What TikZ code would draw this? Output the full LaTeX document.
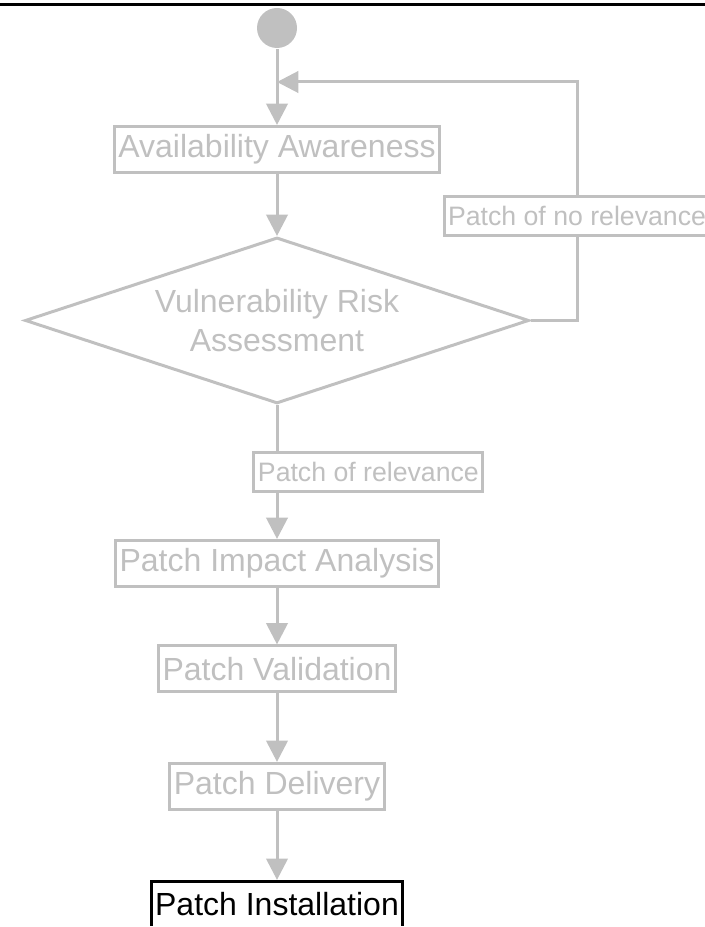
\documentclass[tikz,border=0pt]{standalone}
\usepackage{fontspec}
\setmainfont{Liberation Sans}
\usetikzlibrary{arrows.meta,positioning,shapes.geometric}
\definecolor{faded}{HTML}{C0C0C0}
\tikzset{
  >={Triangle[length=16pt,width=16pt]},
  activity/.style={draw,rectangle,fill=white,line width=2.25pt,
    inner xsep=3pt,inner ysep=0pt,minimum height=34.5pt,
    font=\fontsize{24pt}{28.8pt}\selectfont},
  current/.style={activity,draw=black,text=black},
  decision/.style={diamond,draw,line width=2.25pt,shape aspect=3,
    minimum width=378pt,minimum height=124.5pt,inner sep=0pt,
    align=center,font=\fontsize{24pt}{28.8pt}\selectfont},
  guard/.style={draw,rectangle,fill=white,line width=2.25pt,
    inner xsep=3pt,inner ysep=0pt,minimum height=29.25pt,
    font=\fontsize{20pt}{24pt}\selectfont},
  startpt/.style={circle,fill,minimum size=30pt,inner sep=0pt},
}
\begin{document}
\begin{tikzpicture}[
  x=0.75pt,y=-0.75pt,
  ->,line width=2.25pt,color=faded,
  on grid
]

\useasboundingbox (0,0) rectangle (705,927);
\clip (0,0) rectangle (705,925.5);
\draw[-,black] (0,4.5) -- (705,4.5);

\node[startpt] (start) at (277,28) {};
\node[activity,below=91.1pt of start] (aa) {Availability Awareness};
\node[decision,below=128.25pt of aa] (vra) {Vulnerability Risk\\Assessment};
\node[activity,below=182.25pt of vra] (pia) {Patch Impact Analysis};
\node[activity,below=79.1pt of pia] (pv) {Patch Validation};
\node[activity,below=88.1pt of pv] (pd) {Patch Delivery};
\node[current,below=88.5pt of pd] (pi) {Patch Installation};
\node[guard] (nr) at (577,216) {Patch of no relevance};
\coordinate (merge) at (277,82);

\path
(start) edge (aa)
(aa) edge (vra)
(vra) edge node[guard,anchor=west,xshift=-18.4pt] {Patch of relevance} (pia)
(pia) edge (pv)
(pv) edge (pd)
(pd) edge (pi);

\draw[-] (vra.east) -| (nr);
\draw (nr) |- (merge);

\end{tikzpicture}
\end{document}
